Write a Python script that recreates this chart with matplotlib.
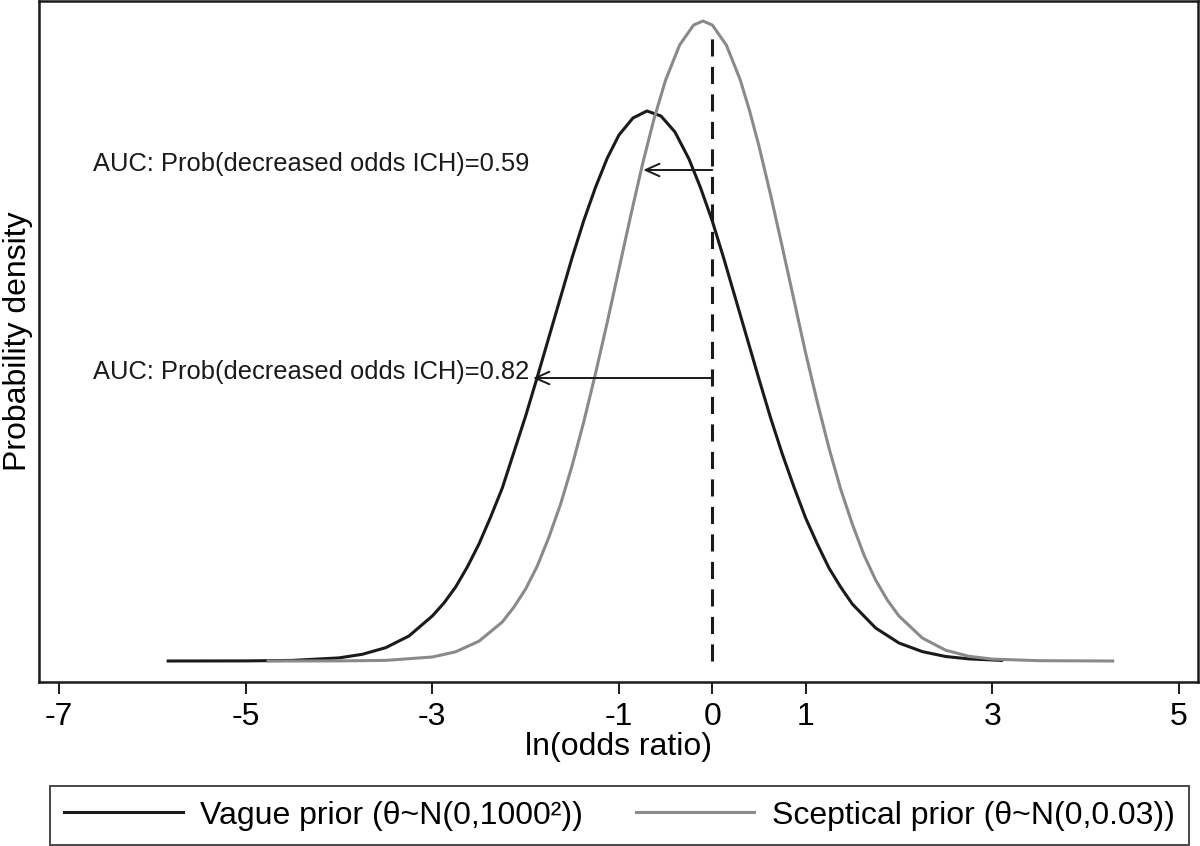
import matplotlib
matplotlib.use("Agg")
import matplotlib.pyplot as plt

# ---- data ----
vague_x = [-5.83, -5.0, -4.5, -4.0, -3.75, -3.5, -3.25, -3.0, -2.875, -2.75, -2.625, -2.5,
           -2.375, -2.25, -2.125, -2.0, -1.875, -1.75, -1.625, -1.5, -1.375, -1.25, -1.125,
           -1.0, -0.85, -0.7, -0.55, -0.4, -0.25, -0.125, 0.0, 0.125, 0.25, 0.375, 0.5,
           0.625, 0.75, 0.875, 1.0, 1.125, 1.25, 1.375, 1.5, 1.75, 2.0, 2.25, 2.5, 2.75, 3.1]
vague_y = [0.000, 0.0001, 0.0006, 0.0031, 0.0067, 0.0133, 0.025, 0.045, 0.058, 0.074, 0.094, 0.117,
           0.144, 0.173, 0.209, 0.245, 0.284, 0.324, 0.364, 0.404, 0.441, 0.474, 0.503,
           0.526, 0.543, 0.550, 0.545, 0.529, 0.502, 0.473, 0.440, 0.402, 0.362, 0.322, 0.282,
           0.243, 0.207, 0.174, 0.143, 0.117, 0.093, 0.074, 0.057, 0.033, 0.018, 0.0094, 0.0045, 0.0021, 0.0006]

scept_x = [-4.76, -4.0, -3.5, -3.0, -2.75, -2.5, -2.25, -2.125, -2.0, -1.875, -1.75, -1.625,
           -1.5, -1.375, -1.25, -1.125, -1.0, -0.875, -0.75, -0.625, -0.5, -0.35, -0.2, -0.1,
           0.0, 0.15, 0.3, 0.4, 0.5, 0.625, 0.75, 0.875, 1.0, 1.125, 1.25, 1.375, 1.5, 1.625,
           1.75, 1.875, 2.0, 2.25, 2.5, 2.75, 3.0, 3.5, 4.29]
scept_y = [0.000, 0.0001, 0.0006, 0.0040, 0.0092, 0.0198, 0.039, 0.054, 0.072, 0.095, 0.124, 0.157,
           0.196, 0.240, 0.288, 0.339, 0.392, 0.445, 0.496, 0.542, 0.581, 0.616, 0.636, 0.640,
           0.636, 0.616, 0.581, 0.550, 0.515, 0.466, 0.414, 0.361, 0.308, 0.259, 0.213, 0.172, 0.137, 0.106,
           0.081, 0.061, 0.045, 0.023, 0.0108, 0.0047, 0.0019, 0.0003, 0.000]

ref_line_top = 0.626
auc_labels = ["AUC: Prob(decreased odds ICH)=0.59", "AUC: Prob(decreased odds ICH)=0.82"]
auc_arrow_y = [0.491, 0.283]
auc_arrow_x = [-0.74, -1.92]
auc_text_x = -6.64

xticks = [-7, -5, -3, -1, 0, 1, 3, 5]
series_labels = ["Vague prior (\u03b8~N(0,1000\u00b2))", "Sceptical prior (\u03b8~N(0,0.03))"]

font = ['Liberation Sans', 'DejaVu Sans']

fig = plt.figure(figsize=(12, 8.46), dpi=100)
ax = fig.add_axes([39/1200, 1 - 682/846, (1198-39)/1200, (682-1)/846])

ax.plot(vague_x, vague_y, color='#1a1a1a', lw=2.2, label=series_labels[0], solid_joinstyle='round')
ax.plot(scept_x, scept_y, color='#8a8a8a', lw=2.2, label=series_labels[1], solid_joinstyle='round')
ax.plot([0, 0], [0, ref_line_top], color='#1a1a1a', lw=2.2, dashes=(5.6, 3.4))

for lab, ay, axx in zip(auc_labels, auc_arrow_y, auc_arrow_x):
    ax.annotate("", xy=(axx, ay), xytext=(0, ay),
                arrowprops=dict(arrowstyle='->,head_length=1.0,head_width=0.45',
                                color='#1a1a1a', lw=1.4, shrinkA=0, shrinkB=0))
    ax.text(auc_text_x, ay + 0.006, lab, fontsize=18.4, family=font, color='#1a1a1a',
            ha='left', va='center')

ax.set_xlim(-7.214, 5.204)
ax.set_ylim(-0.021, 0.660)
ax.set_xticks(xticks)
ax.set_xticklabels([str(t) for t in xticks], family=font, fontsize=23)
ax.set_yticks([])
ax.tick_params(axis='x', direction='out', length=8.6, width=1.4, color='#1a1a1a', pad=6)
for s in ax.spines.values():
    s.set_linewidth(1.8)
    s.set_color('#1a1a1a')
ax.set_xlabel("ln(odds ratio)", family=font, fontsize=23, labelpad=0)
ax.set_ylabel("Probability density", family=font, fontsize=23, labelpad=4)

leg = fig.legend(loc='lower left', bbox_to_anchor=(50/1200, 1/846, 1139/1200, 60/846),
                 mode='expand', ncol=2, frameon=True, fancybox=False, borderaxespad=0,
                 handlelength=3.7, handletextpad=0.55, columnspacing=0.8, borderpad=0.45,
                 prop={'family': font, 'size': 23})
leg.get_frame().set_edgecolor('#1a1a1a')
leg.get_frame().set_linewidth(1.4)

fig.savefig("out.png", dpi=100)
